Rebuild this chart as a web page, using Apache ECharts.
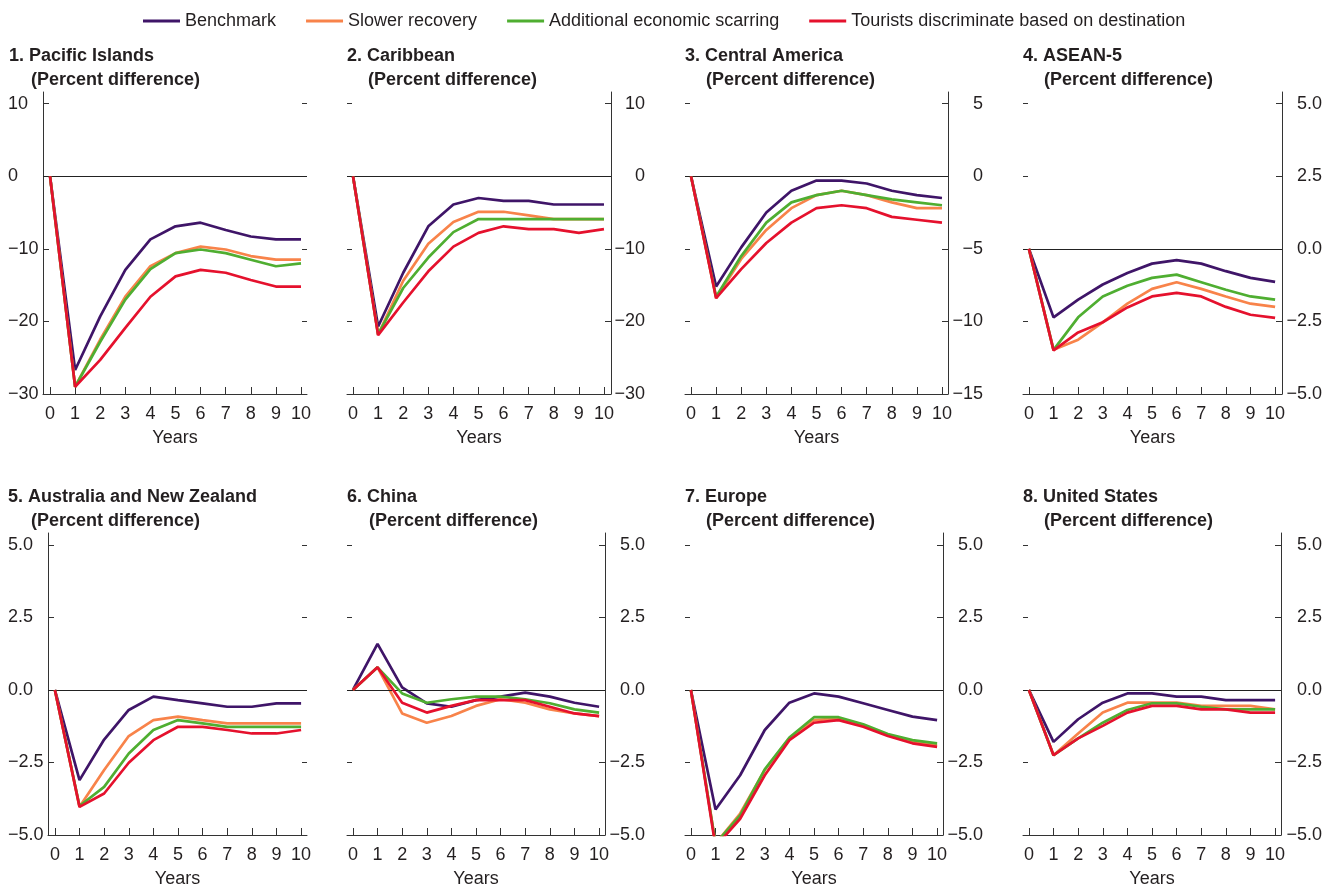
<!DOCTYPE html>
<html>
<head>
<meta charset="utf-8">
<script src="https://cdn.jsdelivr.net/npm/echarts@6/dist/echarts.min.js"></script>
<style>
html,body{margin:0;padding:0;background:#fff;}
#chart{width:1332px;height:891px;}
</style>
</head>
<body>
<div id="chart"></div>
<script>
// ---------- DATA ----------
const years = [0, 1, 2, 3, 4, 5, 6, 7, 8, 9, 10];
const seriesNames = ['Benchmark', 'Slower recovery', 'Additional economic scarring', 'Tourists discriminate based on destination'];
const seriesColors = ['#3f1568', '#f8834a', '#4fae31', '#e5112d'];
const panelTitles = ['1. Pacific Islands', '2. Caribbean', '3. Central America', '4. ASEAN-5',
  '5. Australia and New Zealand', '6. China', '7. Europe', '8. United States'];
const subTitle = '(Percent difference)';
const xAxisName = 'Years';

const yTicksWide = [-30, -20, -10, 0, 10];
const yTicksCentral = [-15, -10, -5, 0, 5];
const yTicksSmall = [-5, -2.5, 0, 2.5, 5];

// 1. Pacific Islands
const pacificBenchmark = [0, -26.7, -19.3, -12.9, -8.7, -6.9, -6.4, -7.4, -8.3, -8.7, -8.7];
const pacificSlower    = [0, -29.0, -22.5, -16.6, -12.4, -10.6, -9.7, -10.1, -11.0, -11.5, -11.5];
const pacificScarring  = [0, -29.0, -22.8, -17.0, -12.8, -10.6, -10.1, -10.6, -11.5, -12.4, -12.0];
const pacificTourists  = [0, -29.0, -25.3, -20.9, -16.6, -13.8, -12.9, -13.3, -14.3, -15.2, -15.2];
// 2. Caribbean
const caribBenchmark = [0, -20.7, -13.3, -6.9, -3.9, -3.0, -3.4, -3.4, -3.9, -3.9, -3.9];
const caribSlower    = [0, -21.8, -14.4, -9.3, -6.3, -4.9, -4.9, -5.4, -5.9, -5.9, -5.9];
const caribScarring  = [0, -21.8, -15.4, -11.2, -7.7, -5.9, -5.9, -5.9, -5.9, -5.9, -5.9];
const caribTourists  = [0, -21.9, -17.4, -13.1, -9.7, -7.8, -6.9, -7.3, -7.3, -7.8, -7.3];
// 3. Central America
const centralBenchmark = [0, -7.6, -4.9, -2.5, -1.0, -0.3, -0.3, -0.5, -1.0, -1.3, -1.5];
const centralSlower    = [0, -8.4, -5.7, -3.7, -2.2, -1.3, -1.0, -1.3, -1.8, -2.2, -2.2];
const centralScarring  = [0, -8.3, -5.5, -3.2, -1.8, -1.3, -1.0, -1.3, -1.6, -1.8, -2.0];
const centralTourists  = [0, -8.4, -6.4, -4.6, -3.2, -2.2, -2.0, -2.2, -2.8, -3.0, -3.2];
// 4. ASEAN-5
const aseanBenchmark = [0, -2.36, -1.75, -1.23, -0.83, -0.51, -0.39, -0.51, -0.77, -1.0, -1.14];
const aseanSlower    = [0, -3.48, -3.13, -2.53, -1.89, -1.38, -1.15, -1.38, -1.64, -1.89, -2.0];
const aseanScarring  = [0, -3.48, -2.36, -1.64, -1.27, -1.0, -0.89, -1.15, -1.41, -1.64, -1.75];
const aseanTourists  = [0, -3.5, -2.88, -2.53, -2.02, -1.64, -1.52, -1.64, -2.0, -2.27, -2.38];
// 5. Australia and New Zealand
const anzBenchmark = [0, -3.11, -1.71, -0.69, -0.23, -0.35, -0.46, -0.58, -0.58, -0.46, -0.46];
const anzSlower    = [0, -4.03, -2.76, -1.59, -1.04, -0.92, -1.04, -1.15, -1.15, -1.15, -1.15];
const anzScarring  = [0, -4.0, -3.34, -2.19, -1.38, -1.04, -1.15, -1.27, -1.27, -1.27, -1.27];
const anzTourists  = [0, -4.03, -3.57, -2.51, -1.73, -1.27, -1.27, -1.38, -1.5, -1.5, -1.38];
// 6. China
const chinaBenchmark = [0, 1.59, 0.09, -0.46, -0.58, -0.35, -0.23, -0.09, -0.23, -0.44, -0.58];
const chinaSlower    = [0, 0.78, -0.81, -1.13, -0.9, -0.55, -0.32, -0.44, -0.67, -0.81, -0.9];
const chinaScarring  = [0, 0.78, -0.12, -0.44, -0.32, -0.23, -0.23, -0.32, -0.46, -0.67, -0.78];
const chinaTourists  = [0, 0.78, -0.44, -0.78, -0.55, -0.35, -0.35, -0.35, -0.58, -0.81, -0.9];
// 7. Europe
const europeBenchmark = [0, -4.12, -2.94, -1.38, -0.44, -0.12, -0.23, -0.46, -0.69, -0.92, -1.04];
const europeSlower    = [0, -5.3, -4.26, -2.76, -1.67, -1.04, -0.98, -1.21, -1.56, -1.79, -1.9];
const europeScarring  = [0, -5.3, -4.32, -2.74, -1.64, -0.94, -0.94, -1.18, -1.52, -1.73, -1.84];
const europeTourists  = [0, -5.4, -4.44, -2.94, -1.73, -1.13, -1.04, -1.27, -1.59, -1.84, -1.96];
// 8. United States
const usBenchmark = [0, -1.79, -1.01, -0.44, -0.12, -0.12, -0.23, -0.23, -0.35, -0.35, -0.35];
const usSlower    = [0, -2.25, -1.5, -0.78, -0.44, -0.44, -0.44, -0.55, -0.55, -0.55, -0.67];
const usScarring  = [0, -2.25, -1.67, -1.13, -0.69, -0.46, -0.46, -0.58, -0.67, -0.67, -0.67];
const usTourists  = [0, -2.25, -1.67, -1.24, -0.78, -0.55, -0.55, -0.67, -0.67, -0.78, -0.78];

const panelData = [
  [pacificBenchmark, pacificSlower, pacificScarring, pacificTourists],
  [caribBenchmark, caribSlower, caribScarring, caribTourists],
  [centralBenchmark, centralSlower, centralScarring, centralTourists],
  [aseanBenchmark, aseanSlower, aseanScarring, aseanTourists],
  [anzBenchmark, anzSlower, anzScarring, anzTourists],
  [chinaBenchmark, chinaSlower, chinaScarring, chinaTourists],
  [europeBenchmark, europeSlower, europeScarring, europeTourists],
  [usBenchmark, usSlower, usScarring, usTourists]
];
const panelTicks = [yTicksWide, yTicksWide, yTicksCentral, yTicksSmall, yTicksSmall, yTicksSmall, yTicksSmall, yTicksSmall];
const panelDecimals = [0, 0, 0, 1, 1, 1, 1, 1];

// ---------- LAYOUT ----------
const FONT = '"Liberation Sans", Arial, sans-serif';
const TXT = '#231f20';
const AX = '#333333';
const layout = [
  {l: 43,   r: 307,  t: 92,  b: 394, side: 'left',  m: 35, tx: 9,    sx: 31,   xmin: -0.28, xmax: 10.24, ymin: -30, ymax: 11.6},
  {l: 347,  r: 611,  t: 92,  b: 394, side: 'right', m: 34, tx: 347,  sx: 368,  xmin: -0.24, xmax: 10.28, ymin: -30, ymax: 11.6},
  {l: 685,  r: 948,  t: 92,  b: 394, side: 'right', m: 35, tx: 685,  sx: 706,  xmin: -0.24, xmax: 10.24, ymin: -15, ymax: 5.8},
  {l: 1023, r: 1282, t: 92,  b: 394, side: 'right', m: 40, tx: 1023, sx: 1044, xmin: -0.24, xmax: 10.28, ymin: -5, ymax: 5.4},
  {l: 48,   r: 307,  t: 533, b: 835, side: 'left',  m: 40, tx: 8,    sx: 31,   xmin: -0.28, xmax: 10.24, ymin: -5, ymax: 5.41},
  {l: 347,  r: 605,  t: 533, b: 835, side: 'right', m: 40, tx: 347,  sx: 369,  xmin: -0.24, xmax: 10.24, ymin: -5, ymax: 5.41},
  {l: 685,  r: 943,  t: 533, b: 835, side: 'right', m: 40, tx: 685,  sx: 706,  xmin: -0.24, xmax: 10.24, ymin: -5, ymax: 5.41},
  {l: 1023, r: 1281, t: 533, b: 835, side: 'right', m: 41, tx: 1023, sx: 1044, xmin: -0.24, xmax: 10.24, ymin: -5, ymax: 5.41}
];

function fmt(v, d) {
  const s = Math.abs(v).toFixed(d);
  return (v < 0 ? '\u2212' : '') + s;
}

const grids = [], xAxes = [], yAxes = [], series = [], titles = [];
layout.forEach((p, i) => {
  grids.push({left: p.l, top: p.t, width: p.r - p.l, height: p.b - p.t, containLabel: false});
  titles.push({text: panelTitles[i], left: p.tx, top: p.t - 45,
    textStyle: {fontFamily: FONT, fontSize: 18, fontWeight: 'bold', color: TXT}, padding: 0});
  titles.push({text: subTitle, left: p.sx, top: p.t - 21,
    textStyle: {fontFamily: FONT, fontSize: 18, fontWeight: 'bold', color: TXT}, padding: 0});
  xAxes.push({
    gridIndex: i, type: 'value', min: p.xmin, max: p.xmax,
    axisLine: {show: true, onZero: false, lineStyle: {color: AX, width: 1}},
    axisTick: {show: true, inside: true, length: 7, customValues: years, lineStyle: {color: AX, width: 1}},
    axisLabel: {customValues: years, fontFamily: FONT, fontSize: 18, color: TXT, margin: 11},
    splitLine: {show: false},
    name: xAxisName, nameLocation: 'middle', nameGap: 35,
    nameTextStyle: {fontFamily: FONT, fontSize: 18, color: TXT}
  });
  const ticks = panelTicks[i];
  const dec = panelDecimals[i];
  const labeled = {
    gridIndex: i, type: 'value', position: p.side, min: p.ymin, max: p.ymax,
    axisLine: {show: true, onZero: false, lineStyle: {color: AX, width: 1}},
    axisTick: {show: true, inside: true, length: 6, customValues: ticks, lineStyle: {color: AX, width: 1}},
    axisLabel: {customValues: ticks, fontFamily: FONT, fontSize: 18, color: TXT, margin: p.m,
      align: p.side === 'left' ? 'left' : 'right', formatter: v => fmt(v, dec)},
    splitLine: {show: false}
  };
  const plain = {
    gridIndex: i, type: 'value', position: p.side === 'left' ? 'right' : 'left', min: p.ymin, max: p.ymax,
    axisLine: {show: false, onZero: false},
    axisTick: {show: true, inside: true, length: 5, customValues: ticks, lineStyle: {color: AX, width: 1}},
    axisLabel: {show: false},
    splitLine: {show: false}
  };
  const yIdx = yAxes.length;
  yAxes.push(labeled, plain);
  panelData[i].forEach((arr, k) => {
    const s = {
      name: seriesNames[k], type: 'line', xAxisIndex: i, yAxisIndex: yIdx,
      data: years.map((x, j) => [x, arr[j]]),
      symbol: 'none', showSymbol: false, clip: true, animation: false,
      lineStyle: {color: seriesColors[k], width: 2.7},
      itemStyle: {color: seriesColors[k]},
      z: 3 + k
    };
    if (k === 0) {
      s.markLine = {silent: true, symbol: ['none', 'none'], animation: false,
        label: {show: false}, lineStyle: {color: '#222', width: 1, type: 'solid'},
        data: [{yAxis: 0}]};
    }
    series.push(s);
  });
});

const chart = echarts.init(document.getElementById('chart'), null, {renderer: 'canvas'});
chart.setOption({
  backgroundColor: '#ffffff',
  animation: false,
  title: titles,
  legend: {
    data: seriesNames, left: 143, top: 12, icon: 'rect', itemWidth: 37, itemHeight: 3, itemGap: 30,
    textStyle: {fontFamily: FONT, fontSize: 18, color: TXT}, padding: 0
  },
  grid: grids,
  xAxis: xAxes,
  yAxis: yAxes,
  series: series
});
</script>
</body>
</html>
